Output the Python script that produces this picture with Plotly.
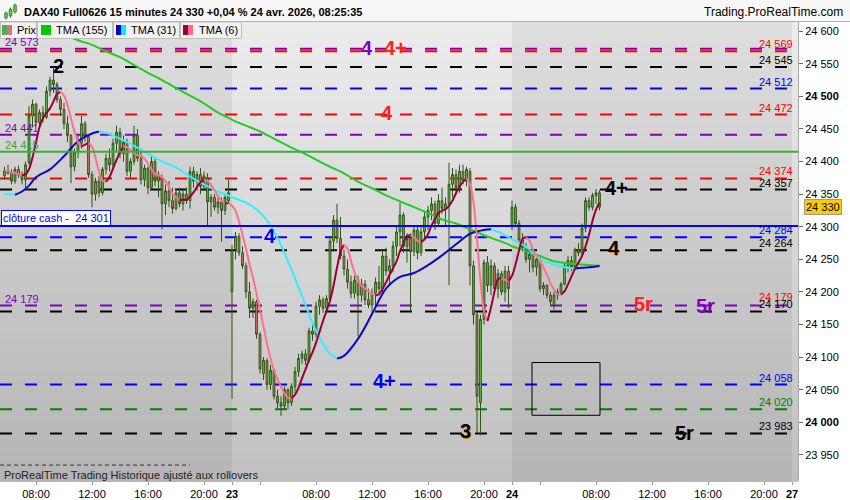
import numpy as np
import plotly.graph_objects as go

# ---------------- data ----------------
# 15-minute bars, sessions 02:00-22:00
sessions = [("22", "05:45", 65), ("23", "02:00", 80), ("24", "02:00", 26)]

open_22 = [24378,24386,24382,24370,24388,24379,24372,24398,24470,24488,24460,24475,24468,24508,24525,24518,24495,24480,24458,24440,
           24392,24415,24428,24458,24438,24380,24350,24370,24352,24388,24405,24395,24428,24445,24412,24430,24385,24400,24440,24405,
           24372,24390,24360,24400,24370,24375,24335,24355,24340,24328,24352,24335,24350,24340,24385,24370,24380,24362,24375,24338,
           24345,24330,24338,24325,24340]
high_22 = [24392,24395,24388,24392,24394,24385,24400,24485,24495,24490,24480,24485,24515,24530,24545,24522,24500,24490,24470,24442,
           24420,24440,24470,24462,24442,24385,24375,24378,24392,24412,24420,24435,24455,24452,24440,24435,24405,24455,24450,24420,
           24395,24392,24410,24405,24385,24380,24365,24370,24360,24358,24360,24355,24360,24392,24392,24385,24390,24385,24382,24350,
           24350,24345,24345,24348,24372]
low_22 = [24372,24380,24365,24366,24375,24365,24357,24395,24452,24455,24450,24460,24465,24500,24505,24490,24470,24450,24430,24367,
          24385,24405,24420,24430,24375,24330,24340,24345,24348,24380,24385,24390,24415,24405,24400,24378,24375,24395,24400,24365,
          24362,24350,24355,24362,24345,24296,24318,24330,24320,24325,24330,24325,24335,24328,24360,24355,24350,24355,24300,24315,
          24325,24320,24277,24318,24335]
close_22 = [24386,24382,24370,24388,24379,24372,24395,24470,24488,24460,24475,24468,24508,24525,24518,24495,24480,24458,24440,24392,
            24415,24430,24458,24438,24380,24350,24370,24352,24388,24405,24395,24428,24445,24412,24430,24385,24400,24440,24405,24372,
            24390,24360,24400,24370,24380,24335,24355,24340,24328,24352,24335,24350,24340,24385,24370,24380,24362,24378,24338,24345,
            24330,24338,24325,24345,24352]

open_23 = [24200,24265,24285,24260,24240,24200,24175,24185,24135,24075,24095,24058,24080,24040,24030,24025,24050,24030,24055,24078,
           24098,24105,24095,24140,24135,24178,24188,24175,24190,24278,24310,24282,24255,24235,24215,24198,24218,24195,24212,24188,
           24180,24198,24215,24205,24255,24232,24240,24270,24292,24318,24270,24282,24262,24295,24260,24292,24315,24325,24335,24305,
           24340,24328,24335,24365,24380,24360,24385,24370,24385,24240,24165,24030,24158,24245,24210,24240,24205,24228,24200,24232]
high_23 = [24272,24292,24290,24270,24245,24215,24190,24188,24138,24100,24098,24088,24082,24050,24040,24055,24052,24060,24085,24105,
           24110,24112,24145,24152,24185,24195,24192,24195,24285,24318,24335,24315,24265,24250,24225,24225,24225,24220,24218,24205,
           24205,24222,24240,24265,24268,24250,24278,24300,24337,24322,24290,24290,24300,24302,24300,24322,24332,24345,24340,24350,
           24360,24345,24398,24390,24388,24395,24395,24392,24390,24248,24170,24165,24250,24255,24250,24245,24235,24232,24240,24240]
low_23 = [24036,24250,24255,24235,24190,24160,24160,24128,24075,24065,24050,24050,24035,24022,24010,24020,24020,24025,24045,24070,
          24090,24088,24092,24125,24130,24165,24168,24170,24185,24265,24275,24250,24225,24205,24190,24190,24132,24185,24180,24175,
          24165,24180,24195,24200,24225,24210,24230,24255,24270,24260,24245,24170,24255,24250,24255,24280,24295,24310,24295,24300,
          24320,24300,24210,24345,24350,24352,24365,24362,24210,24150,23983,23980,24150,24200,24195,24200,24190,24195,24185,24175]
close_23 = [24265,24285,24260,24240,24200,24175,24185,24135,24082,24095,24058,24080,24040,24030,24025,24050,24030,24055,24078,24098,
            24105,24095,24140,24135,24178,24188,24175,24190,24278,24310,24282,24255,24235,24215,24198,24218,24195,24212,24188,24180,
            24198,24215,24205,24255,24232,24240,24270,24292,24318,24270,24282,24262,24295,24260,24292,24315,24325,24335,24305,24340,
            24328,24335,24365,24380,24360,24385,24370,24388,24240,24165,24040,24158,24245,24210,24240,24205,24228,24200,24232,24205]

open_24 = [24300,24330,24305,24280,24268,24250,24258,24238,24250,24205,24210,24195,24180,24195,24200,24212,24240,24248,24238,24265,
           24260,24298,24340,24330,24348,24352]
high_24 = [24340,24335,24310,24290,24275,24265,24262,24255,24252,24215,24212,24200,24200,24205,24215,24245,24255,24255,24268,24275,
           24305,24345,24345,24352,24358,24356]
low_24 = [24295,24300,24275,24262,24245,24230,24230,24225,24200,24195,24190,24180,24173,24188,24195,24210,24230,24232,24235,24255,
          24255,24292,24325,24325,24335,24325]
close_24 = [24330,24305,24280,24268,24250,24258,24238,24250,24205,24210,24195,24185,24195,24200,24212,24240,24248,24238,24265,24260,
            24298,24340,24330,24348,24352,24330]

tma31_times = ["22 05:45","22 06:00","22 06:30","22 07:00","22 07:30","22 08:00","22 09:00","22 10:00","22 11:00","22 12:00",
               "22 12:30","22 13:00","22 14:00","22 15:00","22 16:00","22 17:00","22 18:00","22 19:00","22 20:00","22 21:00",
               "22 21:45","23 02:00","23 03:00","23 04:00","23 05:00","23 06:00","23 07:00","23 08:00","23 09:00","23 09:30",
               "23 10:00","23 11:00","23 12:00","23 13:00","23 14:00","23 15:00","23 16:00","23 17:00","23 18:00","23 19:00",
               "23 20:00","23 20:30","23 21:00","23 21:45","24 02:00","24 03:00","24 04:00","24 05:00","24 06:00","24 06:30",
               "24 07:00","24 08:00","24 08:15"]
tma31_vals = [24351,24350,24349,24354,24363,24376,24388,24408,24431,24443,
              24446,24444,24435,24424,24412,24400,24391,24377,24365,24354,
              24348,24345,24337,24322,24293,24247,24194,24140,24105,24098,
              24102,24128,24166,24205,24223,24229,24241,24256,24273,24289,
              24295,24296,24292,24284,24281,24269,24250,24242,24237,24236,
              24237,24239,24240]

tma155_times = ["22 08:00","22 09:00","22 10:00","22 11:00","22 12:00","22 13:00","22 14:00","22 15:00","22 16:00","22 17:00",
                "22 18:00","22 19:00","22 20:00","22 21:00","22 21:45","23 02:00","23 03:00","23 04:00","23 05:00","23 06:00",
                "23 07:00","23 08:00","23 09:00","23 10:00","23 11:00","23 12:00","23 13:00","23 14:00","23 15:00","23 16:00",
                "23 17:00","23 18:00","23 19:00","23 20:00","23 21:00","23 21:45","24 02:00","24 03:00","24 04:00","24 05:00",
                "24 06:00","24 07:00","24 08:15"]
tma155_vals = [24618,24605,24595,24586,24579,24569,24560,24548,24536,24525,
               24513,24501,24489,24475,24467,24464,24455,24446,24435,24424,
               24414,24403,24392,24382,24369,24359,24348,24339,24330,24321,
               24311,24305,24296,24287,24279,24273,24270,24263,24255,24247,
               24244,24242,24240]

# horizontal levels: price, colour, dashed?
level_prices = [24573, 24569, 24545, 24512, 24472, 24441, 24415, 24374, 24357, 24301, 24284, 24264, 24179, 24170, 24058, 24020, 23983]
level_colors = ["purple", "red", "black", "blue", "red", "purple", "greenline", "red", "black", "blue", "blue", "black", "purple", "black", "blue", "green", "black"]
level_dashed = [True, True, True, True, True, True, False, True, True, False, True, True, True, True, True, True, True]

right_labels = [("24 569", 24569, "red"), ("24 545", 24545, "black"), ("24 512", 24512, "blue"), ("24 472", 24472, "red"),
                ("24 374", 24374, "red"), ("24 357", 24357, "black"), ("24 284", 24284, "blue"), ("24 264", 24264, "black"),
                ("24 179", 24179, "red"), ("24 170", 24170, "black"), ("24 058", 24058, "blue"), ("24 020", 24020, "green"),
                ("23 983", 23983, "black")]
left_labels = [("24 573", 24573, "purple"), ("24 441", 24441, "purple"), ("24 415", 24415, "greentext"), ("24 179", 24179, "purple")]

ytick_vals = [24600, 24550, 24500, 24450, 24400, 24350, 24300, 24250, 24200, 24150, 24100, 24050, 24000, 23950]
last_price = 24330
close_cash = 24301

# ---------------- helpers ----------------
COL = {"purple": "#7f00c0", "red": "#ff0000", "black": "#000000", "blue": "#0000ff",
       "green": "#008000", "greenline": "#36b036", "greentext": "#40a040"}
DAY_INDEX = {"22": 0, "23": 1, "24": 2, "27": 3}


def tpos(day, hhmm):
    h, m = map(int, hhmm.split(":"))
    return DAY_INDEX[day] * 20 + h + m / 60.0 - 2


def tstr(s):
    d, hm = s.split()
    return tpos(d, hm)


bar_t = []
for d, start, n in sessions:
    t0 = tpos(d, start)
    bar_t += [t0 + 0.25 * k for k in range(n)]
bar_t = np.array(bar_t)
O = np.array(open_22 + open_23 + open_24, float)
H = np.array(high_22 + high_23 + high_24, float)
L = np.array(low_22 + low_23 + low_24, float)
C = np.array(close_22 + close_23 + close_24, float)


def sma(a, n):
    out = np.empty_like(a)
    for i in range(len(a)):
        out[i] = a[max(0, i - n + 1):i + 1].mean()
    return out


tma6 = sma(sma(C, 3), 4)

# pixel geometry
PL, PR, PT, PB = 0, 798, 22, 483
PXH = 14.0  # pixels per trading hour
X0 = -48.0
XR = [(PL - X0) / PXH, (PR - X0) / PXH]
YR = [23910, 24614]


def px(x):
    return (x - PL) / (PR - PL)


def py(y):
    return (PB - y) / (PB - PT)


def xd(x):
    return (x - X0) / PXH


def yd(y):
    return YR[1] - (y - PT) * (YR[1] - YR[0]) / (PB - PT)


def slope_traces(xs, ys, up, down, width=2, shape="linear"):
    tr = []
    n = len(xs)
    i = 0
    while i < n - 1:
        rising = ys[i + 1] >= ys[i]
        j = i + 1
        while j < n - 1 and (ys[j + 1] >= ys[j]) == rising:
            j += 1
        tr.append(go.Scatter(x=list(xs[i:j + 1]), y=list(ys[i:j + 1]), mode="lines",
                             line=dict(color=up if rising else down, width=width, shape=shape),
                             hoverinfo="skip", showlegend=False))
        i = j
    return tr


fig = go.Figure()

# background bands with vertical gradient
bands = [(XR[0], 20, ("#dedede", "#b5b5b5")), (20, 40, ("#ececec", "#c0c0c0")),
         (40, 60, ("#dedede", "#b5b5b5")), (60, XR[1], ("#ececec", "#c0c0c0"))]
shapes = []
NS = 46


def mix(c1, c2, f):
    a = [int(c1[i:i + 2], 16) for i in (1, 3, 5)]
    b = [int(c2[i:i + 2], 16) for i in (1, 3, 5)]
    return "#%02x%02x%02x" % tuple(int(round(a[k] + (b[k] - a[k]) * f)) for k in range(3))


for x0, x1, (ct, cb) in bands:
    for k in range(NS):
        shapes.append(dict(type="rect", xref="x", yref="paper", x0=x0, x1=x1,
                           y0=1 - k / NS, y1=1 - (k + 1) / NS - 0.002, fillcolor=mix(ct, cb, (k + 0.5) / NS),
                           line=dict(width=0), layer="below"))

# level lines
for p, c, dsh in zip(level_prices, level_colors, level_dashed):
    shapes.append(dict(type="line", xref="paper", yref="y", x0=0, x1=1, y0=p, y1=p,
                       line=dict(color=COL[c], width=2, dash="12px,13px" if dsh else "solid"),
                       layer="below" if dsh else "above"))
# short dotted line near bottom
shapes.append(dict(type="line", xref="paper", yref="y", x0=0, x1=px(190), y0=yd(467), y1=yd(467),
                   line=dict(color="#333333", width=1, dash="4px,3px"), layer="above"))
# rectangle
shapes.append(dict(type="rect", xref="x", yref="y", x0=xd(532), x1=xd(600), y0=yd(417), y1=yd(364),
                   line=dict(color="black", width=1), fillcolor="rgba(0,0,0,0)", layer="above"))

# header background
shapes.append(dict(type="rect", xref="paper", yref="paper", x0=-0.01, x1=1.1, y0=py(0), y1=py(21),
                   fillcolor="#f7f7f7", line=dict(width=0), layer="above"))
shapes.append(dict(type="line", xref="paper", yref="paper", x0=0, x1=1.066, y0=py(21.5), y1=py(21.5),
                   line=dict(color="#b0b0b0", width=1), layer="above"))
# legend boxes
boxes = [(0, 37), (37, 113), (113, 180), (180, 242)]
for a, b in boxes:
    shapes.append(dict(type="rect", xref="paper", yref="paper", x0=px(a + 0.5), x1=px(b - 0.5), y0=py(38.5), y1=py(22),
                       fillcolor="#f2f2f2", line=dict(color="#bdbdbd", width=1), layer="above"))
swatches = [(2, "#4cae4c", "#e07070"), (41, "#00c800", "#00c800"), (116, "#0000c8", "#00eeff"), (183, "#990033", "#ff6688")]
for x, c1, c2 in swatches:
    shapes.append(dict(type="rect", xref="paper", yref="paper", x0=px(x), x1=px(x + 5), y0=py(35), y1=py(25),
                       fillcolor=c1, line=dict(width=0), layer="above"))
    shapes.append(dict(type="rect", xref="paper", yref="paper", x0=px(x + 5), x1=px(x + 10), y0=py(35), y1=py(25),
                       fillcolor=c2, line=dict(width=0), layer="above"))
# small candle icon in the title
for x, y0, y1 in [(6, 13, 18), (10.5, 9, 16), (15, 5, 12)]:
    shapes.append(dict(type="line", xref="paper", yref="paper", x0=px(x), x1=px(x), y0=py(y1 + 1.5), y1=py(y0 - 1.5),
                       line=dict(color="#2e6a1e", width=1), layer="above"))
    shapes.append(dict(type="rect", xref="paper", yref="paper", x0=px(x - 1.5), x1=px(x + 1.5), y0=py(y1), y1=py(y0),
                       fillcolor="#55c040", line=dict(color="#2e6a1e", width=0.5), layer="above"))

# candlesticks
fig.add_trace(go.Candlestick(x=bar_t, open=O, high=H, low=L, close=C,
                             increasing=dict(line=dict(color="#2c5416", width=1), fillcolor="#5fd03f"),
                             decreasing=dict(line=dict(color="#2c5416", width=1), fillcolor="#e8766c"),
                             whiskerwidth=0, hoverinfo="skip", showlegend=False))

# TMA 155
fig.add_trace(go.Scatter(x=[tstr(s) for s in tma155_times], y=tma155_vals, mode="lines",
                         line=dict(color="#22cc22", width=2, shape="spline"), hoverinfo="skip", showlegend=False))
# TMA 31
for tr in slope_traces(np.array([tstr(s) for s in tma31_times]), np.array(tma31_vals, float),
                       "#0a0ac0", "#30f0ff", width=2, shape="spline"):
    fig.add_trace(tr)
# TMA 6
for tr in slope_traces(bar_t, tma6, "#990033", "#ff7090", width=2, shape="spline"):
    fig.add_trace(tr)

ann = []
FONT = "Liberation Sans, Arial, sans-serif"
for txt, p, c in right_labels:
    ann.append(dict(xref="paper", yref="y", x=px(795), y=p, yshift=9 if p == 24179 else 7, text=txt,
                    showarrow=False, xanchor="right", yanchor="middle", font=dict(family=FONT, size=11, color=COL[c])))
for txt, p, c in left_labels:
    ann.append(dict(xref="paper", yref="y", x=px(3), y=p, yshift=7, text=txt,
                    showarrow=False, xanchor="left", yanchor="middle", font=dict(family=FONT, size=11, color=COL[c])))
ann.append(dict(xref="paper", yref="y", x=px(1), y=close_cash, yshift=8, text="clôture cash -  24 301",
                showarrow=False, xanchor="left", yanchor="middle", bgcolor="white", bordercolor="#0000ff",
                borderwidth=1, borderpad=1, font=dict(family=FONT, size=11, color="#0000ff")))

big = [("2", 58, 66, "#000000"), ("4", 367, 48, COL["purple"]), ("4+", 395, 48, "#ff2020"), ("4", 387, 113, "#ff2020"),
       ("4", 270, 237, "#0000ff"), ("4+", 384, 383, "#0000ff"), ("3", 465, 433, "#000000"), ("4+", 616, 189, "#000000"),
       ("4", 614, 249, "#000000"), ("5r", 643, 305, "#ff2020"), ("5r", 705, 307, COL["purple"]), ("5r", 684, 435, "#000000")]
for txt, x, y, c in big:
    if c == "#000000" and txt in ("4", "3"):
        ann.append(dict(xref="paper", yref="paper", x=px(x + 1), y=py(y + 1), text="<b>%s</b>" % txt, showarrow=False,
                        xanchor="center", yanchor="middle", font=dict(family=FONT, size=20, color="#e08a20")))
    ann.append(dict(xref="paper", yref="paper", x=px(x), y=py(y), text="<b>%s</b>" % txt, showarrow=False,
                    xanchor="center", yanchor="middle", font=dict(family=FONT, size=20, color=c)))

# current price tag
ann.append(dict(xref="paper", yref="y", x=px(804), y=last_price, text="24 330", showarrow=False, xanchor="left",
                yanchor="middle", bgcolor="#ffcc00", bordercolor="#999999", borderwidth=1, borderpad=1,
                font=dict(family=FONT, size=11, color="black")))
# header texts
ann.append(dict(xref="paper", yref="paper", x=px(22), y=py(11.5), text="<b>DAX40 Full0626 15 minutes 24 330 +0,04 % 24 avr. 2026, 08:25:35</b>",
                showarrow=False, xanchor="left", yanchor="middle", font=dict(family=FONT, size=11, color="black")))
ann.append(dict(xref="paper", yref="paper", x=px(845), y=py(12), text="Trading.ProRealTime.com",
                showarrow=False, xanchor="right", yanchor="middle", font=dict(family=FONT, size=12, color="black")))
for txt, x in [("Prix", 15), ("TMA (155)", 54), ("TMA (31)", 129), ("TMA (6)", 197)]:
    ann.append(dict(xref="paper", yref="paper", x=px(x), y=py(30), text=txt, showarrow=False, xanchor="left",
                    yanchor="middle", font=dict(family=FONT, size=11, color="black")))
ann.append(dict(xref="paper", yref="paper", x=px(2), y=py(477), text="ProRealTime Trading Historique ajusté aux rollovers",
                showarrow=False, xanchor="left", yanchor="middle", font=dict(family=FONT, size=11, color="#222222")))

# x ticks
xt_vals, xt_text = [], []
for d in ["22", "23", "24"]:
    if d != "22":
        xt_vals.append(tpos(d, "02:00")); xt_text.append("<b>%s</b>" % d)
        xt_vals.append(tpos(d, "04:00")); xt_text.append("")
    for hm in ["08:00", "12:00", "16:00", "20:00"]:
        xt_vals.append(tpos(d, hm)); xt_text.append(hm)
xt_vals.append(tpos("27", "02:00")); xt_text.append("<b>27</b>")

yt_text = [("<b>%s</b>" if v % 500 == 0 else "%s") % ("{:,}".format(v).replace(",", " ")) for v in ytick_vals]

fig.update_layout(
    width=850, height=500, autosize=False,
    margin=dict(l=PL, r=850 - PR, t=PT, b=500 - PB),
    paper_bgcolor="white", plot_bgcolor="#d0d0d0",
    shapes=shapes, annotations=ann, hovermode=False, showlegend=False,
    font=dict(family=FONT, size=11, color="black"),
    xaxis=dict(range=XR, tickvals=xt_vals, ticktext=xt_text, showgrid=False, zeroline=False,
               ticks="outside", ticklen=3, tickcolor="#999999", rangeslider=dict(visible=False),
               tickfont=dict(family=FONT, size=11, color="black"), fixedrange=True),
    yaxis=dict(range=YR, side="right", tickvals=ytick_vals, ticktext=yt_text, showgrid=False, zeroline=False,
               ticks="outside", ticklen=4, tickcolor="#666666", showline=True, linecolor="#aaaaaa",
               tickfont=dict(family=FONT, size=11, color="black"), fixedrange=True),
)

fig.write_html("out.html", config={"displayModeBar": False},
               post_script="document.body.style.margin='0';document.body.style.padding='0';document.body.style.overflow='hidden';")
